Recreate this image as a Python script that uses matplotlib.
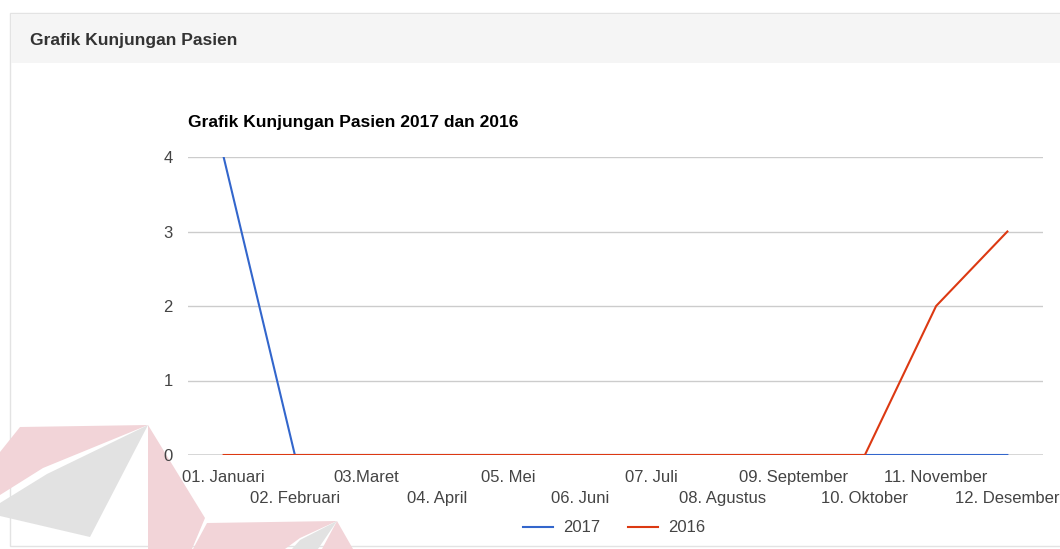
import matplotlib
matplotlib.use("Agg")
import matplotlib.pyplot as plt
from matplotlib.patches import Rectangle, Polygon

# Grafik kunjungan pasien per bulan, 2017 vs 2016
bulan = ['01. Januari', '02. Februari', '03.Maret', '04. April', '05. Mei',
         '06. Juni', '07. Juli', '08. Agustus', '09. September',
         '10. Oktober', '11. November', '12. Desember']
kunjungan_2017 = [4, 0, 0, 0, 0, 0, 0, 0, 0, 0, 0, 0]
kunjungan_2016 = [0, 0, 0, 0, 0, 0, 0, 0, 0, 0, 2, 3]
y_ticks = [0, 1, 2, 3, 4]

W, H = 1060, 549
plt.rcParams['font.family'] = ['Liberation Sans', 'DejaVu Sans']

fig = plt.figure(figsize=(W / 100, H / 100), dpi=100)
fig.patch.set_facecolor('white')


def px(x, y):
    return (x / W, 1 - y / H)


# panel + header band
fig.patches.append(Rectangle(px(10, 546), (W + 20) / W, 533 / H, transform=fig.transFigure,
                             facecolor='white', edgecolor='#e3e3e3', lw=1, zorder=0))
fig.patches.append(Rectangle(px(11, 63), (W + 20) / W, 49 / H, transform=fig.transFigure,
                             facecolor='#f5f5f5', edgecolor='none', zorder=0))
fig.text(30 / W, 1 - 41 / H, 'Grafik Kunjungan Pasien', fontsize=12.5, fontweight='bold',
         color='#333333', va='center', ha='left')

# watermark in the bottom-left corner
wm = [
    ([(20, 427), (148, 425), (43, 468), (0, 495), (0, 452)], '#f2d4d8'),
    ([(148, 425), (205, 518), (192, 549), (148, 549)], '#f2d4d8'),
    ([(148, 425), (47, 474), (0, 503), (0, 516), (90, 537)], '#e2e2e2'),
    ([(207, 523), (337, 521), (300, 538), (285, 549), (193, 549)], '#f2d4d8'),
    ([(337, 521), (353, 549), (322, 549)], '#f2d4d8'),
    ([(337, 521), (300, 540), (292, 549), (318, 549)], '#e2e2e2'),
]
for pts, c in wm:
    fig.patches.append(Polygon([px(x, y) for x, y in pts], closed=True,
                               transform=fig.transFigure, facecolor=c,
                               edgecolor='none', zorder=0.5))

ax = fig.add_axes([188 / W, 1 - 455 / H, (1043 - 188) / W, (455 - 157) / H])
ax.set_zorder(2)
ax.patch.set_alpha(0)
x = list(range(len(bulan)))

ax.plot(x, kunjungan_2017, color='#3366cc', lw=1.5, label='2017', zorder=3)
ax.plot(x, kunjungan_2016, color='#dc3912', lw=1.5, label='2016', zorder=4)

ax.set_xlim(-0.5, len(bulan) - 0.5)
ax.set_ylim(0, 4)
ax.set_yticks(y_ticks)
ax.set_yticklabels([str(v) for v in y_ticks])
ax.tick_params(axis='y', length=0, pad=11, labelsize=12, labelcolor='#444444')
ax.set_xticks([])
for v in y_ticks[1:]:
    ax.axhline(v, color='#cccccc', lw=1, zorder=1)
ax.axhline(0, color='#333333', lw=1, zorder=2)
for s in ax.spines.values():
    s.set_visible(False)

# staggered month labels
for i, lab in enumerate(bulan):
    yy = -0.074 if i % 2 == 0 else -0.147
    ax.text(i, yy, lab, transform=ax.get_xaxis_transform(), ha='center', va='center',
            fontsize=12, color='#444444', clip_on=False)

fig.text(188 / W, 1 - 123 / H, 'Grafik Kunjungan Pasien 2017 dan 2016', fontsize=12.5,
         fontweight='bold', color='#000000', va='center', ha='left')

leg = ax.legend(loc='center', bbox_to_anchor=(614 / W, 1 - 528 / H),
                bbox_transform=fig.transFigure, ncol=2, frameon=False, fontsize=12,
                handlelength=1.8, handletextpad=0.6, columnspacing=1.7)
for t in leg.get_texts():
    t.set_color('#444444')

fig.savefig('out.png', dpi=100)
